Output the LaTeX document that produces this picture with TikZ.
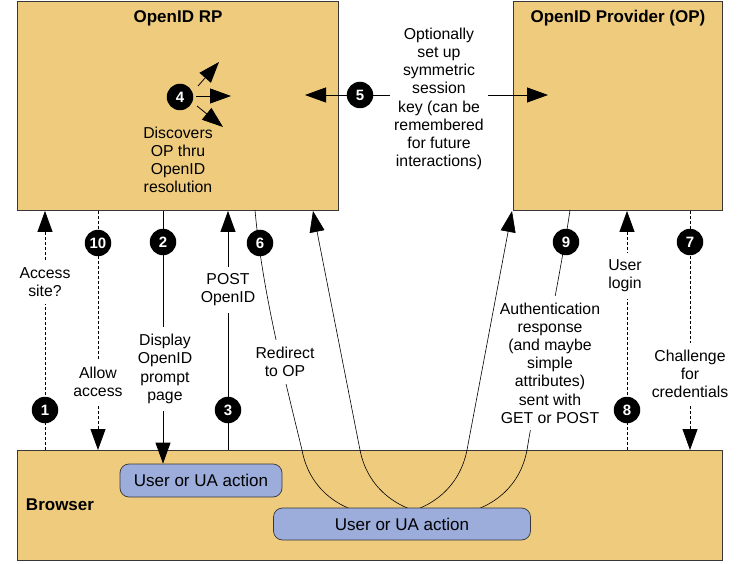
\documentclass[tikz,border=0pt]{standalone}
\usepackage{fontspec}
\setmainfont{Liberation Sans}
\usetikzlibrary{arrows.meta}
\definecolor{boxfill}{RGB}{239,204,125}
\definecolor{uafill}{RGB}{156,172,219}
\definecolor{edge}{RGB}{55,55,55}
\pgfdeclarelayer{boxes}
\pgfdeclarelayer{curves}
\pgfdeclarelayer{uas}
\pgfdeclarelayer{front}
\pgfsetlayers{boxes,curves,uas,main,front}
\begin{document}
\begin{tikzpicture}[x=1pt,y=-1pt,
  bigbox/.style={draw=edge, fill=boxfill, line width=0.9pt, inner sep=0pt, anchor=north west},
  uabox/.style={draw=edge, fill=uafill, rounded corners=9pt, line width=0.7pt, inner sep=0pt, font=\fontsize{17}{18}\selectfont},
  num/.style={circle, fill=black, text=white, minimum size=26.5pt, inner sep=0pt, font=\bfseries\fontsize{15}{15}\selectfont},
  lbl/.style={fill=white, align=center, inner xsep=1pt, inner ysep=7pt, font=\fontsize{15.8}{18.2}\selectfont},
  lblin/.style={align=center, inner sep=0pt, font=\fontsize{15.8}{18.2}\selectfont},
  ttl/.style={font=\bfseries\fontsize{17}{18}\selectfont},
  tip/.tip={Triangle[length=21pt,width=15pt]},
  conn/.style={line width=0.8pt, -tip},
  flow/.style={line width=0.6pt},
  dsh/.style={dash pattern=on 3pt off 2pt}]
\useasboundingbox (0,0) rectangle (739,564);

% main boxes
\begin{pgfonlayer}{boxes}
\fill[white] (0,0) rectangle (739,564);
\node[bigbox, minimum width=321pt, minimum height=209pt] (rp) at (17,1) {};
\node[bigbox, minimum width=209pt, minimum height=209pt] (op) at (513,1) {};
\node[bigbox, minimum width=705pt, minimum height=110pt] (br) at (17,450) {};
\end{pgfonlayer}
\node[ttl] (rpt) at (178,18) {OpenID RP};
\node[ttl] (opt) at (618,18) {OpenID Provider (OP)};
\node[ttl] (brt) at (60,505) {Browser};

% user action boxes
\begin{pgfonlayer}{uas}
\node[uabox, minimum width=162pt, minimum height=33pt] (ua1) at (201,480.5) {User or UA action};
\node[uabox, minimum width=257pt, minimum height=32pt] (ua2) at (402,524) {User or UA action};
\end{pgfonlayer}

% numbered circles and labels (front)
\begin{pgfonlayer}{front}
\node[num] (c1) at (45,410) {1};
\node[num] (c10) at (98,243) {10};
\node[num] (c2) at (163,242) {2};
\node[num] (c3) at (228,410) {3};
\node[num] (c4) at (180,97) {4};
\node[num] (c5) at (360,95) {5};
\node[num] (c6) at (260,243) {6};
\node[num] (c7) at (690,242) {7};
\node[num] (c8) at (627,410) {8};
\node[num] (c9) at (566,242) {9};

\node[lbl] (l1) at (45,282) {Access\\site?};
\node[lbl] (l10) at (98,382) {Allow\\access};
\node[lbl] (l2) at (165,369) {Display\\OpenID\\prompt\\page};
\node[lbl] (l3) at (228,290) {POST\\OpenID};
\node[lbl] (l6) at (285,362) {Redirect\\to OP};
\node[lbl] (l9) at (550,363) {Authentication\\response\\(and maybe\\simple\\attributes)\\sent with\\GET or POST};
\node[lbl] (l8) at (625,276) {User\\login};
\node[lbl] (l7) at (690,374) {Challenge\\for\\credentials};
\node[lbl, inner xsep=4pt] (l5) at (439,99) {Optionally\\set up\\symmetric\\session\\key (can be\\remembered\\for future\\interactions)};
\node[lblin] (l4) at (178,160) {Discovers\\OP thru\\OpenID\\resolution};
\end{pgfonlayer}

% vertical connectors
\draw[conn, dsh] (c1 |- br.north) -- (c1 |- rp.south);
\draw[conn, dsh] (c10 |- rp.south) -- (c10 |- br.north);
\draw[conn] (c2 |- rp.south) -- (c2 |- ua1.north);
\draw[conn] (c3 |- br.north) -- (c3 |- rp.south);
\draw[conn, dsh] (c8 |- br.north) -- (c8 |- op.south);
\draw[conn, dsh] (c7 |- op.south) -- (c7 |- br.north);

% step 5: session key
\coordinate (k5l) at (305,95);
\coordinate (k5r) at (548,95);
\draw[line width=0.8pt, tip-tip] (k5l) -- (k5r);

% step 4: discovery
\coordinate (d4a) at (219,62);
\coordinate (d4b) at (231,96);
\coordinate (d4c) at (223,127);
\draw[conn] (198,86) -- (d4a);
\draw[conn] (196,96) -- (d4b);
\draw[conn] (197,106) -- (d4c);

% redirect curves
\coordinate (s6) at (255,210);
\coordinate (e6) at (512,211);
\coordinate (s9) at (570,210);
\coordinate (e9) at (313,211);
\begin{pgfonlayer}{curves}
\draw[flow, -tip] (s6) .. controls (262,290) and (285,380) .. (302,450)
   .. controls (318,537) and (450,537) .. (467,450) -- (e6);
\draw[flow, -tip] (s9) .. controls (563,260) and (535,400) .. (527,450)
   .. controls (511,537) and (377,537) .. (360,450) -- (e9);
\end{pgfonlayer}
\end{tikzpicture}
\end{document}
